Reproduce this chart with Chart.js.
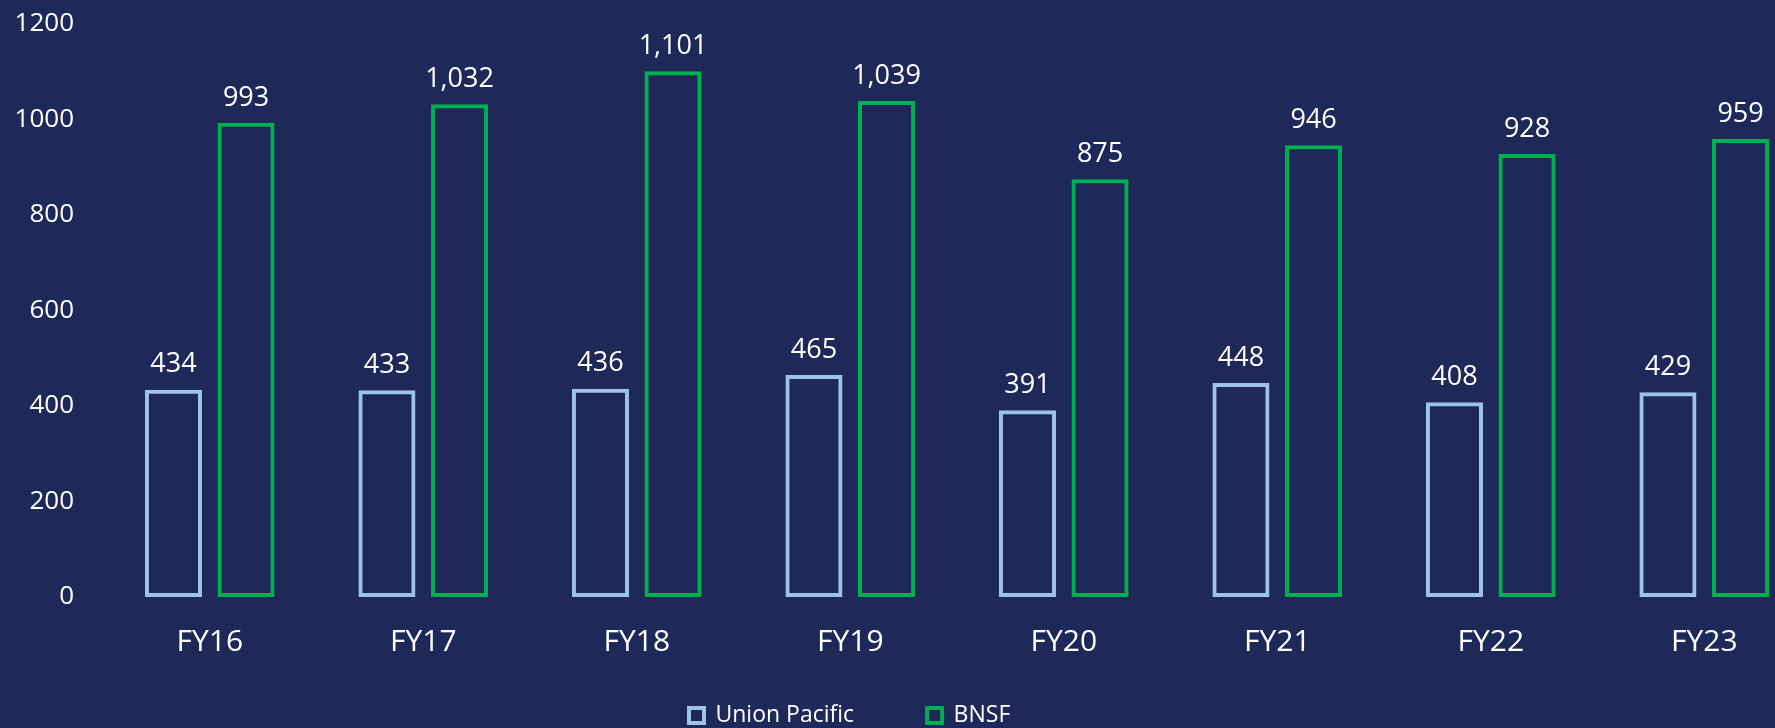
<!DOCTYPE html>
<html><head><meta charset="utf-8">
<script src="https://cdn.jsdelivr.net/npm/chart.js@4/dist/chart.umd.min.js"></script>
<style>
html,body{margin:0;padding:0;background:#1e2859;overflow:hidden;width:1775px;height:728px}
canvas{display:block}
</style>
</head><body>
<canvas id="c" width="1811" height="728"></canvas>
<script>
const categories = ['FY16','FY17','FY18','FY19','FY20','FY21','FY22','FY23'];
const unionPacific = [434,433,436,465,391,448,408,429];
const bnsf = [993,1032,1101,1039,875,946,928,959];
const yTicks = [0,200,400,600,800,1000,1200];
const seriesNames = ['Union Pacific','BNSF'];

const FONT = '"Open Sans", "Liberation Sans", sans-serif';

const valueLabels = {
  id: 'valueLabels',
  afterDatasetsDraw(chart) {
    const ctx = chart.ctx;
    ctx.save();
    ctx.font = '27px ' + FONT;
    ctx.fillStyle = '#ffffff';
    ctx.textAlign = 'center';
    ctx.textBaseline = 'middle';
    chart.data.datasets.forEach((ds, i) => {
      chart.getDatasetMeta(i).data.forEach((bar, j) => {
        ctx.fillText(ds.data[j].toLocaleString('en-US'), bar.x, bar.y - 25);
      });
    });
    ctx.restore();
  }
};

const placeLegend = {
  id: 'placeLegend',
  beforeInit(chart) {
    const l = chart.legend;
    if (!l) return;
    const origFit = l.fit;
    l.fit = function () { origFit.call(this); this.height = 0; };
  },
  afterLayout(chart) {
    const l = chart.legend;
    if (!l) return;
    l.left = 616; l.right = 1400; l.top = 631; l.bottom = 728;
    l.width = l.right - l.left; l.height = l.bottom - l.top;
  }
};

new Chart(document.getElementById('c'), {
  type: 'bar',
  data: {
    labels: categories,
    datasets: [
      { label: seriesNames[0], data: unionPacific, backgroundColor: 'rgba(0,0,0,0)', borderColor: '#9dc3e6', borderWidth: 4, borderSkipped: false },
      { label: seriesNames[1], data: bnsf, backgroundColor: 'rgba(0,0,0,0)', borderColor: '#00b050', borderWidth: 4, borderSkipped: false }
    ]
  },
  options: {
    responsive: false,
    animation: false,
    categoryPercentage: 0.68,
    barPercentage: 0.786,
    layout: { padding: { top: 24, left: 0, right: 0, bottom: 0 } },
    plugins: {
      tooltip: { enabled: false },
      legend: {
        position: 'bottom',
        align: 'start',
        labels: { color: '#ffffff', font: { family: FONT, size: 23 }, boxWidth: 15, boxHeight: 15, padding: 73 }
      }
    },
    scales: {
      x: {
        grid: { display: false, drawTicks: false },
        border: { display: false },
        ticks: { color: '#ffffff', font: { family: FONT, size: 30 }, padding: 27 },
        afterFit(s) { s.height = 131; s.paddingLeft = 0; s.paddingRight = 0; }
      },
      y: {
        min: 0, max: 1200,
        grid: { display: false, drawTicks: false },
        border: { display: false },
        ticks: { color: '#ffffff', font: { family: FONT, size: 26 }, padding: 29, callback: v => String(v) },
        afterBuildTicks(s) { s.ticks = yTicks.map(v => ({ value: v })); },
        afterFit(s) { s.width = 103; s.paddingTop = 0; s.paddingBottom = 0; }
      }
    }
  },
  plugins: [valueLabels, placeLegend]
});
</script>
</body></html>
